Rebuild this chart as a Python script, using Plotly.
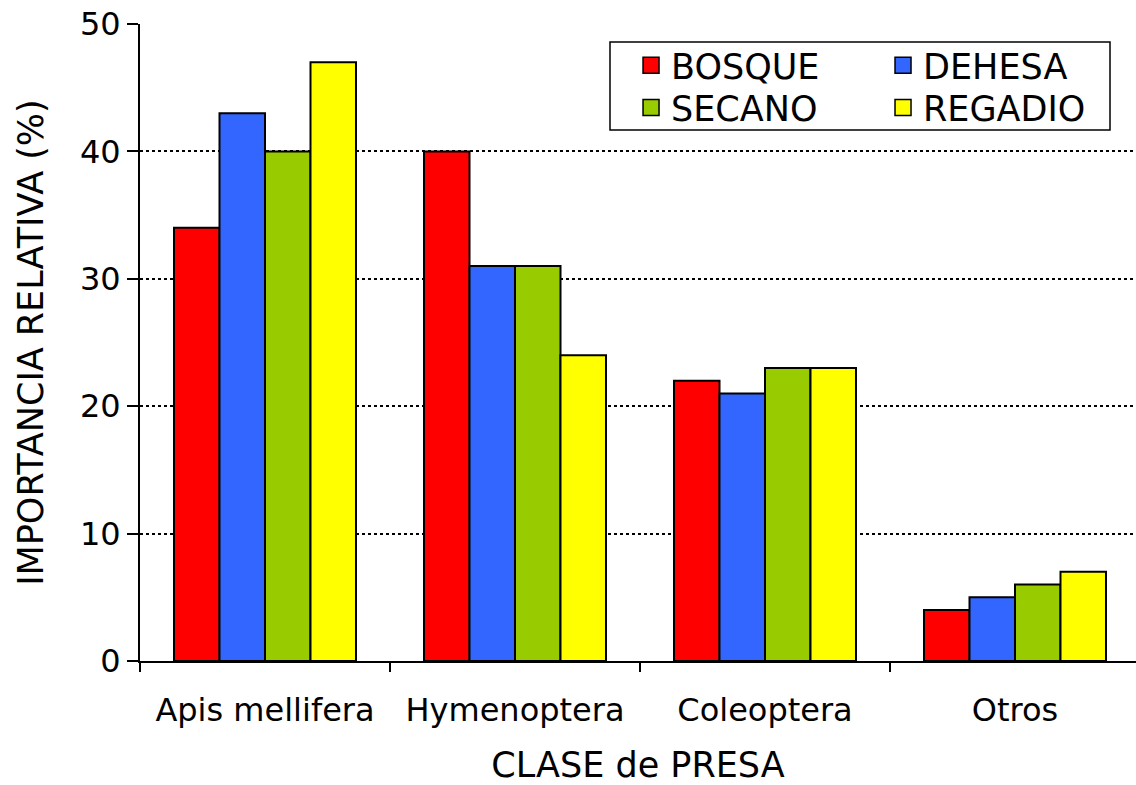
import plotly.graph_objects as go

categories = ["Apis mellifera", "Hymenoptera", "Coleoptera", "Otros"]
series_names = ["BOSQUE", "DEHESA", "SECANO", "REGADIO"]
bosque = [34, 40, 22, 4]
dehesa = [43, 31, 21, 5]
secano = [40, 31, 23, 6]
regadio = [47, 24, 23, 7]
colors = ["#FF0000", "#3366FF", "#99CC00", "#FFFF00"]
y_ticks = [0, 10, 20, 30, 40, 50]

FONT = "DejaVu Sans"
xpos = list(range(len(categories)))

fig = go.Figure()
for name, vals, col in zip(series_names, [bosque, dehesa, secano, regadio], colors):
    fig.add_trace(go.Bar(x=xpos, y=vals, name=name, showlegend=False,
                         marker=dict(color=col, line=dict(color="black", width=2))))

# legend entries: one small legend per entry, arranged in a 2x2 grid
legend_ids = ["legend", "legend2", "legend3", "legend4"]
legend_pos = {"legend": (0.493, 0.981), "legend2": (0.746, 0.981),
              "legend3": (0.493, 0.915), "legend4": (0.746, 0.915)}
for name, col, lid in zip(series_names, colors, legend_ids):
    fig.add_trace(go.Scatter(x=[None], y=[None], mode="markers", name=name,
                             legend=lid,
                             marker=dict(symbol="square", size=16, color=col,
                                         line=dict(color="black", width=1.5))))

leg_common = dict(orientation="v", yanchor="top", xanchor="left", bgcolor="rgba(0,0,0,0)",
                  borderwidth=0, font=dict(family=FONT, size=35, color="black"),
                  tracegroupgap=0, itemwidth=30)
legends = {lid: dict(x=legend_pos[lid][0], y=legend_pos[lid][1], **leg_common) for lid in legend_ids}

fig.update_layout(
    width=1136, height=785,
    margin=dict(l=140, r=0, t=24, b=124, autoexpand=False),
    plot_bgcolor="white", paper_bgcolor="white",
    barmode="group", bargap=0.272, bargroupgap=0,
    font=dict(family=FONT, size=32, color="black"),
    showlegend=True,
    **legends,
    shapes=[dict(type="rect", xref="paper", yref="paper",
                 x0=(610 - 140) / 996, x1=(1110 - 140) / 996,
                 y0=(661 - 130) / 637, y1=(661 - 42) / 637,
                 line=dict(color="black", width=1.5), fillcolor="rgba(0,0,0,0)", layer="above")],
    xaxis=dict(range=[-0.5, 3.484], tickvals=xpos, ticktext=categories,
               ticks="", showgrid=False, showline=True, linecolor="black", linewidth=2,
               tickfont=dict(family=FONT, size=32, color="black"),
               ticklabelstandoff=20, automargin=True,
               minor=dict(tick0=-0.5, dtick=1, ticks="outside", ticklen=9, tickwidth=2,
                          tickcolor="black", showgrid=False),
               title=dict(text="CLASE de PRESA", font=dict(family=FONT, size=35, color="black"),
                          standoff=30),
               zeroline=False),
    yaxis=dict(range=[0, 50], tickvals=y_ticks, ticks="outside", ticklen=11, tickwidth=2,
               tickcolor="black", showline=True, linecolor="black", linewidth=2,
               showgrid=True, gridcolor="black", griddash="dot", gridwidth=1.5,
               zeroline=False, automargin=True,
               tickfont=dict(family=FONT, size=32, color="black"),
               title=dict(text="IMPORTANCIA RELATIVA (%)", font=dict(family=FONT, size=35, color="black"),
                          standoff=26)),
)

fig.write_html("out.html")
